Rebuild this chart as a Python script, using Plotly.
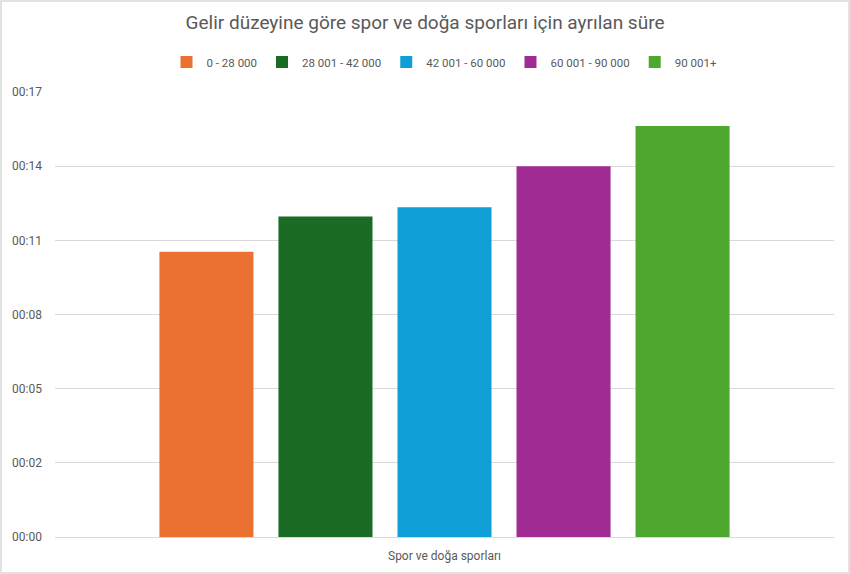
import plotly.graph_objects as go

# Gelir düzeyine göre spor ve doğa sporları için ayrılan süre (dakika)
category = ["Spor ve doğa sporları"]
income_groups = ["0 - 28 000", "28 001 - 42 000", "42 001 - 60 000", "60 001 - 90 000", "90 001+"]
minutes = [11.08, 12.45, 12.8, 14.4, 15.96]
colors = ["#EA7131", "#1A6B23", "#0F9FD6", "#A02B93", "#4EA72E"]

# Excel-style time axis: major unit 0.002 day = 2.88 minutes
tick_vals = [0, 2.88, 5.76, 8.64, 11.52, 14.4, 17.28]
tick_text = ["00:00", "00:02", "00:05", "00:08", "00:11", "00:14", "00:17"]

W, H = 850, 574
margin = dict(l=55, r=16, t=92, b=37)

fig = go.Figure()
for name, val, col in zip(income_groups, minutes, colors):
    fig.add_trace(go.Bar(x=category, y=[val], name=name, marker_color=col,
                         marker_line_width=0))

pw = W - margin["l"] - margin["r"]
ph = H - margin["t"] - margin["b"]

fig.update_layout(
    width=W, height=H,
    margin=margin,
    barmode="group",
    bargap=0.236,
    bargroupgap=0.21,
    plot_bgcolor="white",
    paper_bgcolor="white",
    font=dict(family="Roboto, Arial, sans-serif", size=12, color="#595959"),
    title=dict(text="Gelir düzeyine göre spor ve doğa sporları için ayrılan süre",
               x=0.5, xanchor="center", y=1 - 22 / H, yanchor="middle",
               font=dict(size=19, color="#595959")),
    legend=dict(orientation="h", x=0.5, xanchor="center", y=1 + 30 / ph, yanchor="middle",
                font=dict(size=11.5, color="#595959"), itemwidth=30, traceorder="normal"),
    showlegend=True,
    shapes=[dict(type="rect", xref="paper", yref="paper",
                 x0=-(margin["l"] - 1) / pw, x1=1 + (margin["r"] - 1) / pw,
                 y0=-(margin["b"] - 1) / ph, y1=1 + (margin["t"] - 1) / ph,
                 line=dict(color="#D9D9D9", width=1.5), layer="below")],
)

fig.update_xaxes(showgrid=False, showline=False, ticks="", tickfont=dict(size=12),
                 ticklabelstandoff=10)
fig.update_yaxes(range=[0, 17.28], tickvals=tick_vals, ticktext=tick_text,
                 showgrid=True, gridcolor="#D9D9D9", gridwidth=1,
                 zeroline=True, zerolinecolor="#D9D9D9", zerolinewidth=1,
                 showline=False, ticks="", ticklabelstandoff=12,
                 tickfont=dict(size=12))

# drop the page's default 8px body margin so the figure sits at the window origin
fig.write_html("out.html", config={"displayModeBar": False},
               post_script="document.body.style.margin='0';")
